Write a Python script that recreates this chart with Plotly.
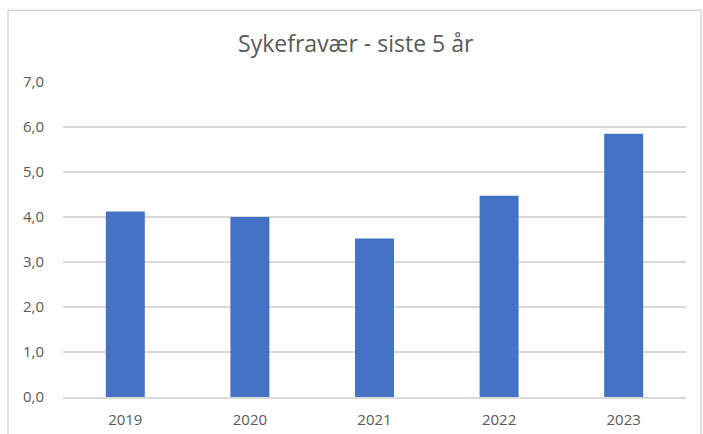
import plotly.graph_objects as go

years = ["2019", "2020", "2021", "2022", "2023"]
values = [4.12, 4.0, 3.52, 4.47, 5.85]
title_text = "Sykefravær - siste 5 år"

fig = go.Figure(go.Bar(x=years, y=values, marker=dict(color="#4472C4", line=dict(width=0))))

fig.update_layout(
    width=703, height=434,
    margin=dict(l=63, r=17, t=82, b=37, autoexpand=False),
    paper_bgcolor="white", plot_bgcolor="white",
    separators=",.",
    bargap=0.687,
    showlegend=False,
    title=dict(text=title_text, x=0.506, xanchor="center", y=1 - 44 / 434, yanchor="middle",
               font=dict(family="Open Sans, Liberation Sans, sans-serif", size=23, color="#595959")),
    font=dict(family="Open Sans, Liberation Sans, sans-serif", size=15, color="#595959"),
    shapes=[dict(type="rect", xref="paper", yref="paper",
                 x0=(8 - 63) / 623, x1=(701 - 63) / 623,
                 y0=(396.7 - 445) / 315, y1=(396.7 - 10) / 315,
                 line=dict(color="#d9d9d9", width=1.5), fillcolor="rgba(0,0,0,0)", layer="below")],
)
fig.update_yaxes(range=[0, 7], dtick=1, tickformat=".1f", showgrid=True, gridcolor="#d9d9d9",
                 gridwidth=1.5, zeroline=False, showline=False, ticks="outside", ticklen=15,
                 tickcolor="rgba(0,0,0,0)", fixedrange=True)
fig.update_xaxes(showgrid=False, showline=True, linecolor="#d9d9d9", linewidth=1.5,
                 ticks="outside", ticklen=8, tickcolor="rgba(0,0,0,0)", fixedrange=True)

fig.write_html("out.html", config={"displayModeBar": False},
               post_script="document.body.style.margin='0';document.body.style.overflow='hidden';")
